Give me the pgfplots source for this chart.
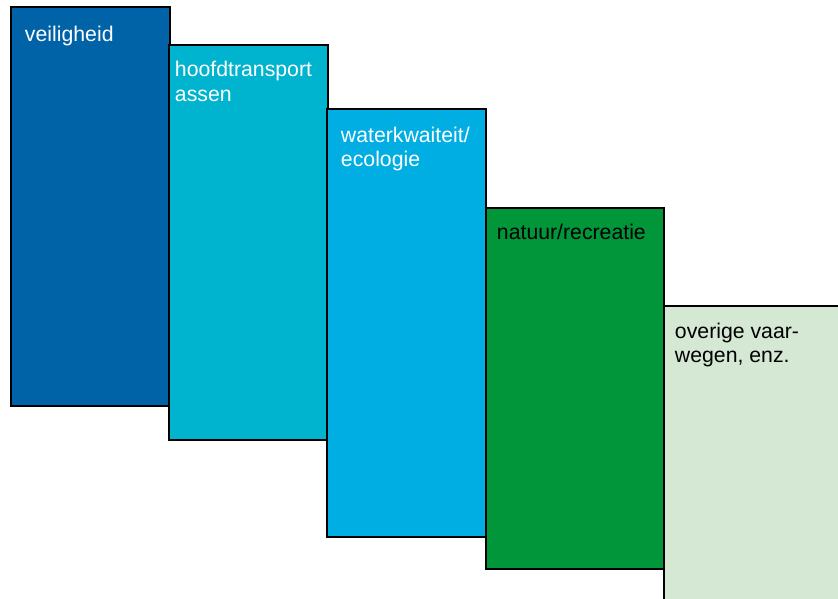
\documentclass[border=0pt]{standalone}
\usepackage{fontspec}
\setmainfont{Liberation Sans}
\usepackage{pgfplots}
\pgfplotsset{compat=1.18}
\definecolor{c1}{RGB}{0,99,168}
\definecolor{c2}{RGB}{0,180,208}
\definecolor{c3}{RGB}{0,174,227}
\definecolor{c4}{RGB}{0,150,57}
\definecolor{c5}{RGB}{212,232,212}
\tikzset{lbl/.style={font=\fontsize{8.5}{10}\selectfont, anchor=base west, inner sep=0pt, outer sep=0pt}}
\begin{document}
\begin{tikzpicture}
\begin{axis}[
  width=335.2pt, height=239.6pt, scale only axis,
  xmin=0, xmax=838, ymin=0, ymax=599,
  hide axis, clip=true,
]
\addplot[draw=black, line width=1.1pt, fill=c1] coordinates {(11,592) (170,592) (170,193) (11,193)} -- cycle;
\addplot[draw=black, line width=1.1pt, fill=c2] coordinates {(169,554) (328,554) (328,159) (169,159)} -- cycle;
\addplot[draw=black, line width=1.1pt, fill=c3] coordinates {(327,490) (486,490) (486,62) (327,62)} -- cycle;
\addplot[draw=black, line width=1.1pt, fill=c4] coordinates {(486,391) (664,391) (664,30) (486,30)} -- cycle;
\addplot[draw=black, line width=1.1pt, fill=c5] coordinates {(664,293) (870,293) (870,-30) (664,-30)} -- cycle;
\node[lbl, text=white] at (axis cs:25,557) {veiligheid};
\node[lbl, text=white] at (axis cs:175,522) {hoofdtransport};
\node[lbl, text=white] at (axis cs:175,497) {assen};
\node[lbl, text=white] at (axis cs:341,456) {waterkwaiteit/};
\node[lbl, text=white] at (axis cs:341,432) {ecologie};
\node[lbl, text=black] at (axis cs:497,359) {natuur/recreatie};
\node[lbl, text=black] at (axis cs:675,260) {overige vaar-};
\node[lbl, text=black] at (axis cs:675,236) {wegen, enz.};
\end{axis}
\pgfresetboundingbox
\path[use as bounding box] (current axis.south west) rectangle (current axis.north east);
\end{tikzpicture}
\end{document}
